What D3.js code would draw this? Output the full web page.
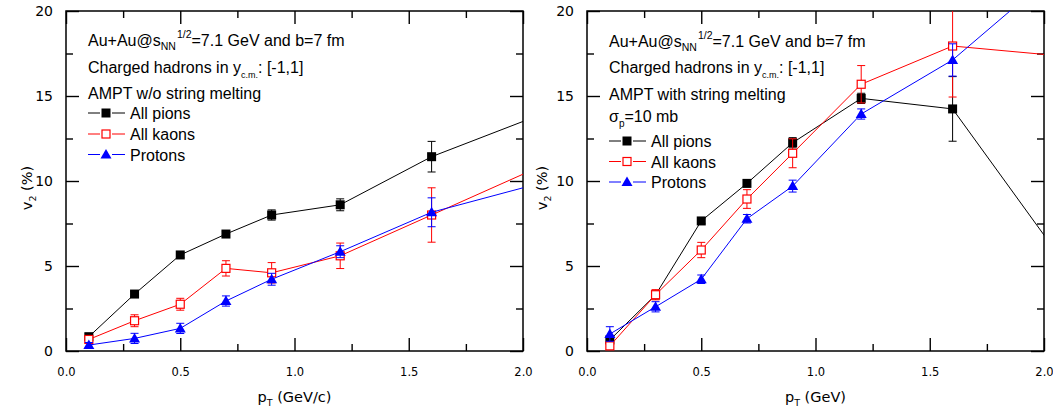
<!DOCTYPE html>
<html>
<head>
<meta charset="utf-8">
<script src="https://cdn.jsdelivr.net/npm/d3@7"></script>
<style>
  body { margin: 0; background: #fff; }
  svg { display: block; font-family: "Liberation Sans", Arial, sans-serif; }
  .tick text { fill: #000; }
</style>
</head>
<body>
<svg id="chart" width="1053" height="419"></svg>
<script>
// pT bins (GeV), last bin lies outside the frame and is clipped
var pT = [0.1, 0.3, 0.5, 0.7, 0.9, 1.2, 1.6, 2.2];

// AMPT w/o string melting
var pionsDefault = [0.84, 3.35, 5.65, 6.88, 8.0, 8.6, 11.43, 14.54];
var pionsDefaultErr = [0.2, 0.15, 0.15, 0.15, 0.3, 0.35, 0.9, 1.0];
var kaonsDefault = [0.68, 1.78, 2.75, 4.86, 4.6, 5.6, 8.0, 11.6];
var kaonsDefaultErr = [0.2, 0.35, 0.35, 0.45, 0.6, 0.75, 1.6, 1.8];
var protonsDefault = [0.35, 0.74, 1.33, 2.94, 4.22, 5.84, 8.16, 10.32];
var protonsDefaultErr = [0.15, 0.3, 0.3, 0.3, 0.35, 0.35, 0.85, 1.0];

// AMPT with string melting, sigma_p = 10 mb
var pionsSM = [0.65, 3.3, 7.65, 9.86, 12.25, 14.86, 14.24, 3.11];
var pionsSMErr = [0.15, 0.15, 0.15, 0.2, 0.3, 0.3, 1.9, 2.0];
var kaonsSM = [0.3, 3.31, 5.94, 8.94, 11.63, 15.69, 17.94, 17.2];
var kaonsSMErr = [0.2, 0.3, 0.45, 0.55, 0.85, 1.1, 3.0, 3.0];
var protonsSM = [1.0, 2.6, 4.22, 7.78, 9.7, 13.94, 17.12, 24.0];
var protonsSMErr = [0.43, 0.3, 0.25, 0.25, 0.35, 0.3, 0.95, 1.0];

var seriesNames = ["All pions", "All kaons", "Protons"];
var seriesColors = ["#000000", "#ff0000", "#0000ff"];
var seriesMarkers = ["square", "openSquare", "triangle"];

var xMajor = [0, 0.5, 1.0, 1.5, 2.0];
var xMinor = [0.25, 0.75, 1.25, 1.75];
var yMajor = [0, 5, 10, 15, 20];
var yMinor = [2.5, 7.5, 12.5, 17.5];

var svg = d3.select("#chart");
var top_ = 11, bottom = 351;

var panels = [
  {left: 66, right: 523, xTitle: "(GeV/c)", yTitleX: 32,
   lines: ["energy", "hadrons", "AMPT w/o string melting"],
   lineY: [46, 73, 99], legendY: [113, 134, 154.5],
   data: [[pionsDefault, pionsDefaultErr], [kaonsDefault, kaonsDefaultErr], [protonsDefault, protonsDefaultErr]]},
  {left: 587, right: 1044, xTitle: "(GeV)", yTitleX: 547,
   lines: ["energy", "hadrons", "AMPT with string melting", "sigma"],
   lineY: [46.5, 73, 100, 121.5], legendY: [141, 161.5, 182],
   data: [[pionsSM, pionsSMErr], [kaonsSM, kaonsSMErr], [protonsSM, protonsSMErr]]}
];

function marker(g, type, color) {
  if (type === "triangle") {
    g.append("path").attr("d", "M0,-5.5L5.5,4L-5.5,4Z").attr("fill", color);
  } else if (type === "square") {
    g.append("rect").attr("x", -4.5).attr("y", -4.5).attr("width", 9).attr("height", 9).attr("fill", color);
  } else {
    g.append("rect").attr("x", -4).attr("y", -4).attr("width", 8).attr("height", 8)
      .attr("fill", "#fff").attr("stroke", color).attr("stroke-width", 1.2);
  }
}

function annotation(g, kind, x, y) {
  var t = g.append("text").attr("x", x).attr("y", y).attr("font-size", 16).attr("fill", "#000");
  if (kind === "energy") {
    t.append("tspan").text("Au+Au@s");
    t.append("tspan").attr("font-size", 10.5).attr("dy", 4).text("NN");
    t.append("tspan").attr("font-size", 10.5).attr("dy", -12).attr("dx", 1).text("1/2");
    t.append("tspan").attr("dy", 8).text("=7.1 GeV and b=7 fm");
  } else if (kind === "hadrons") {
    t.append("tspan").text("Charged hadrons in y");
    t.append("tspan").attr("font-size", 9).attr("dy", 5).text("c.m.");
    t.append("tspan").attr("dy", -5).text(": [-1,1]");
  } else if (kind === "sigma") {
    t.append("tspan").text("σ");
    t.append("tspan").attr("font-size", 10).attr("dy", 5).text("p");
    t.append("tspan").attr("dy", -5).text("=10 mb");
  } else {
    t.text(kind);
  }
}

panels.forEach(function(p, pi) {
  var x = d3.scaleLinear().domain([0, 2]).range([p.left, p.right]);
  var y = d3.scaleLinear().domain([0, 20]).range([bottom, top_]);
  var g = svg.append("g");

  // ticks, all pointing inward
  function ax(gen, vals, size, pad, tr) {
    gen.tickValues(vals).tickSize(-size).tickPadding(pad || 3);
    if (!pad) gen.tickFormat("");
    var a = g.append("g").attr("transform", tr).call(gen);
    a.select(".domain").remove();
    a.selectAll("line").attr("stroke", "#000").attr("stroke-width", 1.4);
    return a;
  }
  var xb = ax(d3.axisBottom(x).tickFormat(d3.format(".1f")), xMajor, 13, 17, "translate(0," + bottom + ")");
  xb.selectAll("text").attr("font-family", "DejaVu Sans, sans-serif").attr("font-size", 11.5);
  ax(d3.axisBottom(x), xMinor, 7, 0, "translate(0," + bottom + ")");
  ax(d3.axisTop(x), xMajor, 13, 0, "translate(0," + top_ + ")");
  ax(d3.axisTop(x), xMinor, 7, 0, "translate(0," + top_ + ")");
  var yl = ax(d3.axisLeft(y).tickFormat(d3.format("d")), yMajor, 13, 13, "translate(" + p.left + ",0)");
  yl.selectAll("text").attr("font-family", "DejaVu Sans, sans-serif").attr("font-size", 14);
  ax(d3.axisLeft(y), yMinor, 7, 0, "translate(" + p.left + ",0)");
  ax(d3.axisRight(y), yMajor, 13, 0, "translate(" + p.right + ",0)");
  ax(d3.axisRight(y), yMinor, 7, 0, "translate(" + p.right + ",0)");

  g.append("rect").attr("x", p.left).attr("y", top_)
    .attr("width", p.right - p.left).attr("height", bottom - top_)
    .attr("fill", "none").attr("stroke", "#000").attr("stroke-width", 1.5);

  // axis titles
  var xt = g.append("text").attr("x", (p.left + p.right) / 2).attr("y", 402)
    .attr("text-anchor", "middle").attr("font-family", "DejaVu Sans, sans-serif").attr("font-size", 14.5);
  xt.append("tspan").text("p");
  xt.append("tspan").attr("font-size", 9.5).attr("dy", 4).text("T");
  xt.append("tspan").attr("dy", -4).text(" " + p.xTitle);

  var yt = g.append("text").attr("transform", "translate(" + p.yTitleX + "," + ((top_ + bottom) / 2 + 7) + ") rotate(-90)")
    .attr("text-anchor", "middle").attr("font-family", "DejaVu Sans, sans-serif").attr("font-size", 14.5);
  yt.append("tspan").text("v");
  yt.append("tspan").attr("font-size", 9.5).attr("dy", 4).text("2");
  yt.append("tspan").attr("dy", -4).text(" (%)");

  // data, clipped to the frame
  svg.append("clipPath").attr("id", "clip" + pi).append("rect")
    .attr("x", p.left).attr("y", top_).attr("width", p.right - p.left).attr("height", bottom - top_);
  var dg = g.append("g").attr("clip-path", "url(#clip" + pi + ")");

  p.data.forEach(function(s, si) {
    var vals = s[0], errs = s[1], col = seriesColors[si];
    var pts = pT.map(function(v, i) { return {x: v, y: vals[i], e: errs[i]}; });
    var sg = dg.append("g");
    sg.append("path").datum(pts)
      .attr("d", d3.line().x(function(d) { return x(d.x); }).y(function(d) { return y(d.y); }))
      .attr("fill", "none").attr("stroke", col).attr("stroke-width", 1);
    pts.forEach(function(d) {
      var cx = x(d.x);
      sg.append("line").attr("x1", cx).attr("x2", cx).attr("y1", y(d.y - d.e)).attr("y2", y(d.y + d.e))
        .attr("stroke", col).attr("stroke-width", 1);
      [d.y - d.e, d.y + d.e].forEach(function(v) {
        sg.append("line").attr("x1", cx - 4).attr("x2", cx + 4).attr("y1", y(v)).attr("y2", y(v))
          .attr("stroke", col).attr("stroke-width", 1);
      });
    });
    pts.forEach(function(d) {
      marker(sg.append("g").attr("transform", "translate(" + x(d.x) + "," + y(d.y) + ")"), seriesMarkers[si], col);
    });
  });

  // annotation text
  var tx = p.left + 22;
  p.lines.forEach(function(k, i) { annotation(g, k, tx, p.lineY[i]); });

  // legend
  seriesNames.forEach(function(name, i) {
    var ly = p.legendY[i], col = seriesColors[i];
    g.append("line").attr("x1", tx).attr("x2", tx + 12).attr("y1", ly).attr("y2", ly).attr("stroke", col);
    g.append("line").attr("x1", tx + 24).attr("x2", tx + 37).attr("y1", ly).attr("y2", ly).attr("stroke", col);
    marker(g.append("g").attr("transform", "translate(" + (tx + 18) + "," + ly + ")"), seriesMarkers[i], col);
    g.append("text").attr("x", tx + 42).attr("y", ly + 6).attr("font-size", 16).text(name);
  });
});
</script>
</body>
</html>
